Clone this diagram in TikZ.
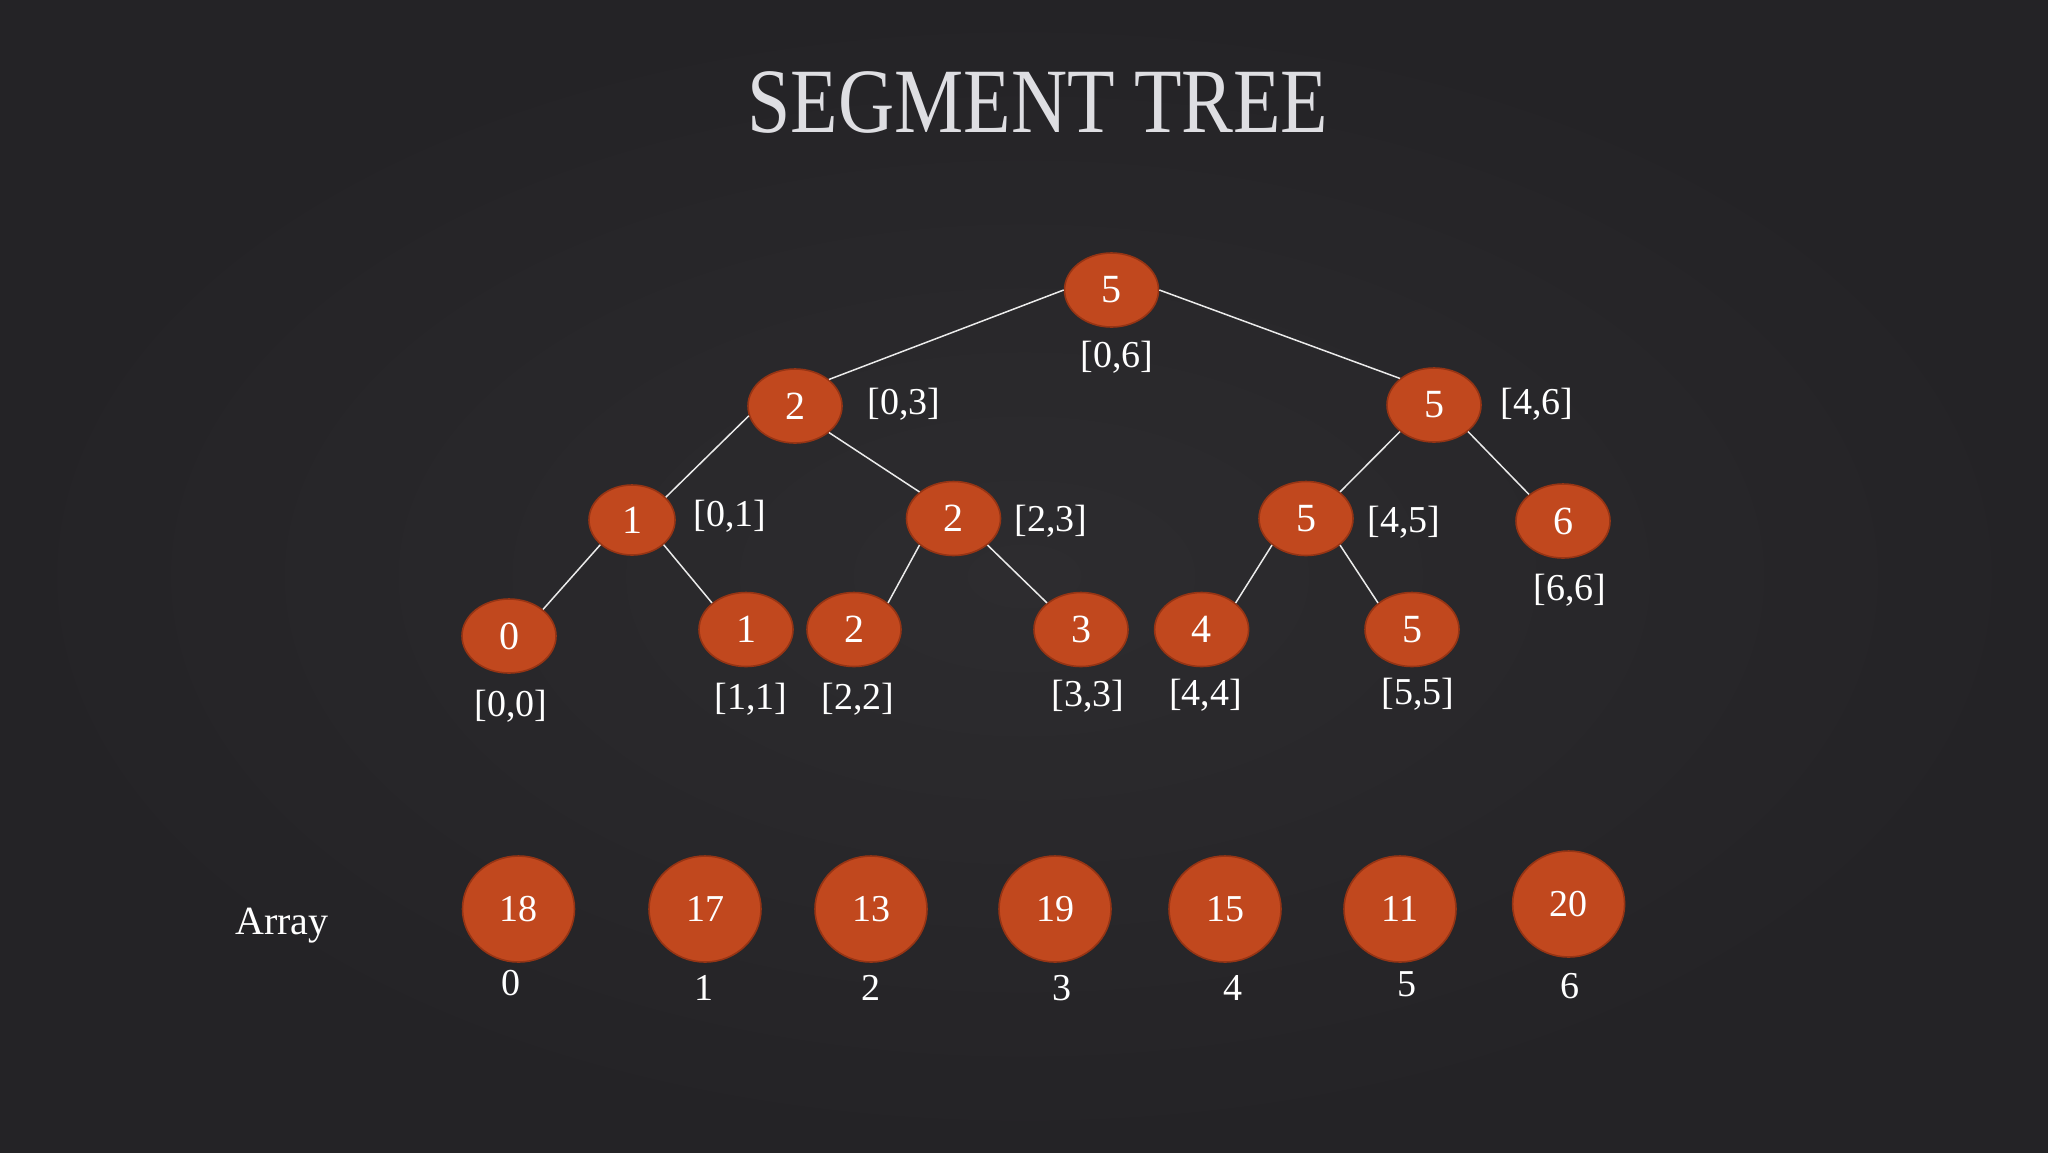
\documentclass[tikz,border=0pt]{standalone}
\usepackage{fontspec}
\setmainfont{Liberation Serif}
\usetikzlibrary{shapes.geometric}
\definecolor{bgin}{RGB}{45,44,47}
\definecolor{bgout}{RGB}{36,35,38}
\definecolor{nodefill}{RGB}{193,72,30}
\definecolor{nodeline}{RGB}{150,52,20}
\definecolor{titlec}{RGB}{222,222,226}
\tikzset{
  tnode/.style={ellipse, draw=nodeline, line width=0.8pt, fill=nodefill, text=white,
    minimum width=47pt, minimum height=37pt, inner sep=0pt, font=\fontsize{20}{24}\selectfont},
  anode/.style={ellipse, draw=nodeline, line width=0.8pt, fill=nodefill, text=white,
    minimum width=56pt, minimum height=53pt, inner sep=0pt, font=\fontsize{19}{23}\selectfont},
  lbl/.style={text=white, inner sep=0pt, font=\fontsize{19}{23}\selectfont},
  edge/.style={draw=white!92!black, line width=0.75pt}
}
\begin{document}
\begin{tikzpicture}[x=0.5pt,y=-0.5pt]
\shade[inner color=bgin, outer color=bgout] (0,0) rectangle (2048,1152);
\useasboundingbox (0,0) rectangle (2048,1152);
% title
\node[text=titlec, inner sep=0pt, font=\fontsize{46}{50}\selectfont, xscale=0.845] (title) at (1038,102) {SEGMENT TREE};
% tree nodes
\node[tnode] (r) at (1111.5,290) {5};
\node[tnode] (a) at (795,406) {2};
\node[tnode] (b) at (1434,405) {5};
\node[tnode, minimum width=43pt, minimum height=35pt] (a1) at (632,520) {1};
\node[tnode] (a2) at (953.5,518.5) {2};
\node[tnode] (b1) at (1306,518.5) {5};
\node[tnode] (b2) at (1563,521) {6};
\node[tnode] (l0) at (509,636) {0};
\node[tnode] (l1) at (746,629.5) {1};
\node[tnode] (l2) at (854,629.5) {2};
\node[tnode] (l3) at (1081,629.5) {3};
\node[tnode] (l4) at (1201.6,629.5) {4};
\node[tnode] (l5) at (1412,629.5) {5};
% edges
\draw[edge] (r.west) -- (a.38);
\draw[edge] (r.east) -- (b.142);
\draw[edge] (a.192) -- (a1.34);
\draw[edge] (a.322) -- (a2.142);
\draw[edge] (b.218) -- (b1.38);
\draw[edge] (b.322) -- (b2.142);
\draw[edge] (a1.218) -- (l0.38);
\draw[edge] (a1.322) -- (l1.142);
\draw[edge] (a2.218) -- (l2.38);
\draw[edge] (a2.322) -- (l3.142);
\draw[edge] (b1.218) -- (l4.38);
\draw[edge] (b1.322) -- (l5.142);
% range labels
\node[lbl] (tr) at (1117,357) {[0,6]};
\node[lbl] (ta) at (904,404) {[0,3]};
\node[lbl] (tb) at (1537,404) {[4,6]};
\node[lbl] (ta1) at (730,516) {[0,1]};
\node[lbl] (ta2) at (1051,521) {[2,3]};
\node[lbl] (tb1) at (1404,522) {[4,5]};
\node[lbl] (tb2) at (1570,590) {[6,6]};
\node[lbl] (tl0) at (511,706) {[0,0]};
\node[lbl] (tl1) at (751,699) {[1,1]};
\node[lbl] (tl2) at (858,699) {[2,2]};
\node[lbl] (tl3) at (1088,696) {[3,3]};
\node[lbl] (tl4) at (1205.5,695) {[4,4]};
\node[lbl] (tl5) at (1418,694) {[5,5]};
% array
\node[lbl, font=\fontsize{20}{24}\selectfont] (arr) at (282,926) {Array};
\node[anode] (v0) at (518.5,909) {18};
\node[anode] (v1) at (705,909) {17};
\node[anode] (v2) at (871,909) {13};
\node[anode] (v3) at (1055,909) {19};
\node[anode] (v4) at (1225,909) {15};
\node[anode] (v5) at (1400,909) {11};
\node[anode] (v6) at (1568.6,904) {20};
\node[lbl] (i0) at (511,983) {0};
\node[lbl] (i1) at (704,988) {1};
\node[lbl] (i2) at (871,988) {2};
\node[lbl] (i3) at (1062,988) {3};
\node[lbl] (i4) at (1233,988) {4};
\node[lbl] (i5) at (1407,984.5) {5};
\node[lbl] (i6) at (1570,986) {6};
\end{tikzpicture}
\end{document}
